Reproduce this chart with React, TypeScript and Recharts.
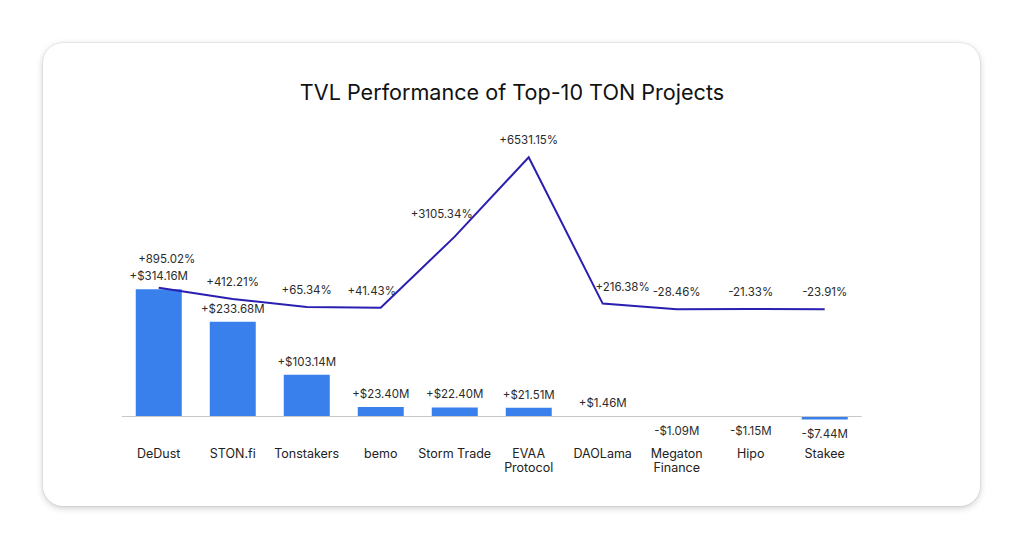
import { ComposedChart, Bar, Line, XAxis, YAxis, ReferenceLine, LabelList } from 'recharts';

const projects = [
  'DeDust',
  'STON.fi',
  'Tonstakers',
  'bemo',
  'Storm Trade',
  'EVAA Protocol',
  'DAOLama',
  'Megaton Finance',
  'Hipo',
  'Stakee',
];
// TVL change, millions of USD
const tvlChange = [314.16, 233.68, 103.14, 23.4, 22.4, 21.51, 1.46, -1.09, -1.15, -7.44];
// TVL change, percent
const tvlChangePct = [895.02, 412.21, 65.34, 41.43, 3105.34, 6531.15, 216.38, -28.46, -21.33, -23.91];

const BAR_DOMAIN: [number, number] = [-33.3, 682.7];
const PCT_DOMAIN: [number, number] = [-5240, 7277];

const BAR_COLOR = '#3a80ec';
const LINE_COLOR = '#2a1fb0';
const LABEL_COLOR = '#2b2b2b';
const FONT = 'Inter, "Noto Sans", sans-serif';

// small hand nudges so percent labels don't sit on the line / bar labels
const PCT_NUDGE: Record<string, { dx?: number; dy?: number }> = {
  DeDust: { dx: 8, dy: -29 },
  bemo: { dx: -9 },
  'Storm Trade': { dx: -13, dy: -23 },
  DAOLama: { dx: 20 },
};

const data = projects.map((name, i) => ({ name, tvl: tvlChange[i], pct: tvlChangePct[i] }));

const sign = (v: number) => (v < 0 ? '-' : '+');
const fmtMoney = (v: number) => `${sign(v)}$${Math.abs(v).toFixed(2)}M`;
const fmtPct = (v: number) => `${sign(v)}${Math.abs(v).toFixed(2)}%`;

function BarValueLabel(props: any) {
  const { x, y, width, height, value } = props;
  const top = Math.min(y, y + height);
  const bottom = Math.max(y, y + height);
  const ty = value < 0 ? bottom + 14 : top - 13;
  return (
    <text x={x + width / 2} y={ty} textAnchor="middle" dominantBaseline="central" fill={LABEL_COLOR} fontSize={11.5} fontFamily={FONT}>
      {fmtMoney(value)}
    </text>
  );
}

function PctLabel(props: any) {
  const { x, y, value, index } = props;
  const nudge = PCT_NUDGE[projects[index]] || {};
  return (
    <text
      x={x + (nudge.dx ?? 0)}
      y={y + (nudge.dy ?? -17)}
      textAnchor="middle"
      dominantBaseline="central"
      fill={LABEL_COLOR}
      fontSize={11.5}
      fontFamily={FONT}
    >
      {fmtPct(value)}
    </text>
  );
}

function ProjectTick(props: any) {
  const { x, y, payload } = props;
  const label: string = payload.value;
  const lines = label.length > 11 ? label.split(' ') : [label];
  return (
    <text x={x} y={y + 15} textAnchor="middle" fill="#222" fontSize={12.5} fontFamily={FONT}>
      {lines.map((ln, i) => (
        <tspan key={ln} x={x} dy={i === 0 ? 0 : 14.5} dominantBaseline="central">
          {ln}
        </tspan>
      ))}
    </text>
  );
}

export default function App() {
  return (
    <div style={{ position: 'absolute', left: 0, top: 0, width: 1024, height: 550, background: '#fff', fontFamily: FONT }}>
      <div
        style={{
          position: 'absolute',
          left: 43,
          top: 43,
          width: 937,
          height: 463,
          borderRadius: 20,
          background: '#fff',
          boxShadow: '0 0 0 1px rgba(0,0,0,0.05), 0 2px 7px rgba(0,0,0,0.2)',
        }}
      />
      <div
        style={{
          position: 'absolute',
          left: 0,
          top: 78,
          width: 1024,
          textAlign: 'center',
          fontSize: 21.6,
          lineHeight: '28px',
          color: '#111',
        }}
      >
        TVL Performance of Top-10 TON Projects
      </div>
      <div style={{ position: 'absolute', left: 0, top: 0 }}>
        <ComposedChart width={1024} height={550} data={data} margin={{ top: 140, right: 162.3, bottom: 90, left: 121.7 }} barCategoryGap="19%">
          <XAxis dataKey="name" axisLine={false} tickLine={false} height={30} interval={0} tick={<ProjectTick />} />
          <YAxis yAxisId="tvl" domain={BAR_DOMAIN} hide allowDataOverflow />
          <YAxis yAxisId="pct" orientation="right" domain={PCT_DOMAIN} hide allowDataOverflow />
          <ReferenceLine yAxisId="tvl" y={0} stroke="#c8c8c8" strokeWidth={1} />
          <Bar yAxisId="tvl" dataKey="tvl" fill={BAR_COLOR} isAnimationActive={false}>
            <LabelList dataKey="tvl" content={<BarValueLabel />} />
          </Bar>
          <Line
            yAxisId="pct"
            type="linear"
            dataKey="pct"
            stroke={LINE_COLOR}
            strokeWidth={2}
            dot={false}
            activeDot={false}
            isAnimationActive={false}
          >
            <LabelList dataKey="pct" content={<PctLabel />} />
          </Line>
        </ComposedChart>
      </div>
    </div>
  );
}
